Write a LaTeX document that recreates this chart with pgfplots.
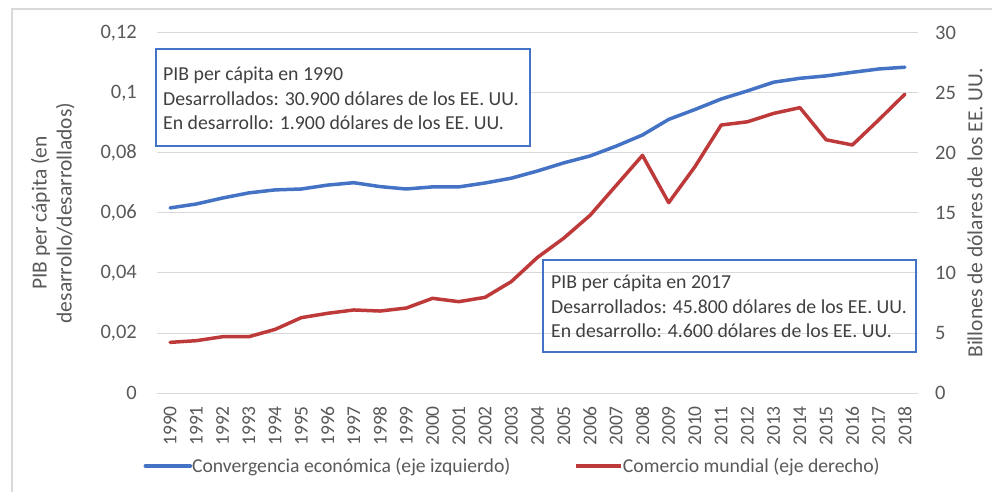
\documentclass[border=0pt]{standalone}
\usepackage{pgfplots}
\pgfplotsset{compat=1.18}
\usepackage{fontspec}
\setmainfont{Carlito}
\definecolor{cblue}{HTML}{4472C4}
\definecolor{cred}{HTML}{BE3A3A}
\definecolor{cgrid}{HTML}{D9D9D9}
\definecolor{ctick}{HTML}{595959}
\definecolor{ctext}{HTML}{404040}
\begin{document}
\begin{tikzpicture}
\begin{axis}[
  at={(0,0)}, anchor=south west,
  scale only axis, width=761bp, height=360bp,
  xmin=1989.5, xmax=2018.5, ymin=0, ymax=0.12,
  xtick={1990,1991,...,2018},
  ytick={0,0.02,0.04,0.06,0.08,0.1,0.12},
  yticklabels={0,{0,02},{0,04},{0,06},{0,08},{0,1},{0,12}},
  ymajorgrids, grid style={cgrid, line width=1bp},
  axis line style={draw=none}, major tick length=0pt,
  x tick label style={rotate=90, anchor=east, inner sep=0pt, color=ctick,
    font=\fontsize{19.5bp}{22bp}\selectfont,
    /pgf/number format/1000 sep={}, /pgf/number format/assume math mode=true},
  xticklabel shift=13bp,
  y tick label style={inner sep=0pt, color=ctick, font=\fontsize{20.5bp}{22bp}\selectfont},
  yticklabel shift=20bp,
  ylabel={PIB per cápita (en\\desarrollo/desarrollados)},
  ylabel style={at={(axis description cs:-0.137,0.5)}, anchor=center, align=center,
    color=ctick, font=\fontsize{21.5bp}{25bp}\selectfont},
  legend columns=2,
  legend style={at={(rel axis cs:0.466,-0.203)}, anchor=center, draw=none, fill=none,
    inner sep=0pt, font=\fontsize{19.7bp}{21bp}\selectfont, text=ctick,
    nodes={inner sep=0pt},
    /tikz/every odd column/.append style={column sep=0bp},
    /tikz/every even column/.append style={column sep=64bp}},
  legend image code/.code={\draw[#1, line width=3.5bp] (0bp,0bp) -- (45bp,0bp);},
]
\addplot[cblue, line width=3.5bp, line join=round, line cap=round] coordinates {
(1990,0.0617) (1991,0.0630) (1992,0.0650) (1993,0.0667) (1994,0.0677)
(1995,0.0680) (1996,0.0693) (1997,0.0701) (1998,0.0688) (1999,0.0680)
(2000,0.0687) (2001,0.0687) (2002,0.0700) (2003,0.0716) (2004,0.0740)
(2005,0.0767) (2006,0.0790) (2007,0.0823) (2008,0.0860) (2009,0.0912)
(2010,0.0945) (2011,0.0980) (2012,0.1007) (2013,0.1036) (2014,0.1049)
(2015,0.1057) (2016,0.1069) (2017,0.1080) (2018,0.1086)};
\addlegendentry{Convergencia económica (eje izquierdo)}
\addlegendimage{cred}
\addlegendentry{Comercio mundial (eje derecho)}
\end{axis}
\begin{axis}[
  at={(0,0)}, anchor=south west,
  scale only axis, width=761bp, height=360bp,
  xmin=1989.5, xmax=2018.5, ymin=0, ymax=30,
  axis x line=none, axis y line*=right,
  ytick={0,5,10,15,20,25,30},
  axis line style={draw=none}, major tick length=0pt,
  y tick label style={inner sep=0pt, color=ctick, font=\fontsize{20.5bp}{22bp}\selectfont,
    /pgf/number format/assume math mode=true},
  yticklabel shift=17bp,
  ylabel={Billones de dólares de los EE. UU.},
  ylabel style={at={(axis description cs:1.075,0.5)}, anchor=center, rotate=0,
    color=ctick, font=\fontsize{21.5bp}{23bp}\selectfont},
]
\addplot[cred, line width=3.5bp, line join=round, line cap=round] coordinates {
(1990,4.22) (1991,4.36) (1992,4.69) (1993,4.69) (1994,5.30)
(1995,6.28) (1996,6.64) (1997,6.92) (1998,6.83) (1999,7.08)
(2000,7.89) (2001,7.61) (2002,7.97) (2003,9.28) (2004,11.3)
(2005,12.9) (2006,14.8) (2007,17.3) (2008,19.8) (2009,15.86)
(2010,18.86) (2011,22.33) (2012,22.6) (2013,23.3) (2014,23.78)
(2015,21.1) (2016,20.67) (2017,22.75) (2018,24.9)};
\end{axis}
% annotation boxes
\draw[cblue, line width=1.3bp, fill=white] (-1bp,344bp) rectangle (373bp,247bp);
\begin{scope}[every node/.style={anchor=base west, inner sep=0pt, text=ctext, font=\fontsize{19.8bp}{21bp}\selectfont}]
\node at (6bp,312bp) {PIB per cápita en 1990};
\node at (6bp,287bp) {Desarrollados: 30.900 dólares de los EE. UU.};
\node at (6bp,263bp) {En desarrollo: 1.900 dólares de los EE. UU.};
\end{scope}
\draw[cblue, line width=1.3bp] (386bp,133bp) rectangle (759bp,41bp);
\begin{scope}[every node/.style={anchor=base west, inner sep=0pt, text=ctext, font=\fontsize{19.8bp}{21bp}\selectfont}]
\node at (394bp,104bp) {PIB per cápita en 2017};
\node at (394bp,79bp) {Desarrollados: 45.800 dólares de los EE. UU.};
\node at (394bp,55bp) {En desarrollo: 4.600 dólares de los EE. UU.};
\end{scope}
% chart frame
\draw[cgrid, line width=1.5bp] (-145bp,-99bp) -- (-145bp,384bp) -- (835bp,384bp);
\pgfresetboundingbox
\path[use as bounding box] (-157bp,-99bp) rectangle (835bp,393bp);
\end{tikzpicture}
\end{document}
